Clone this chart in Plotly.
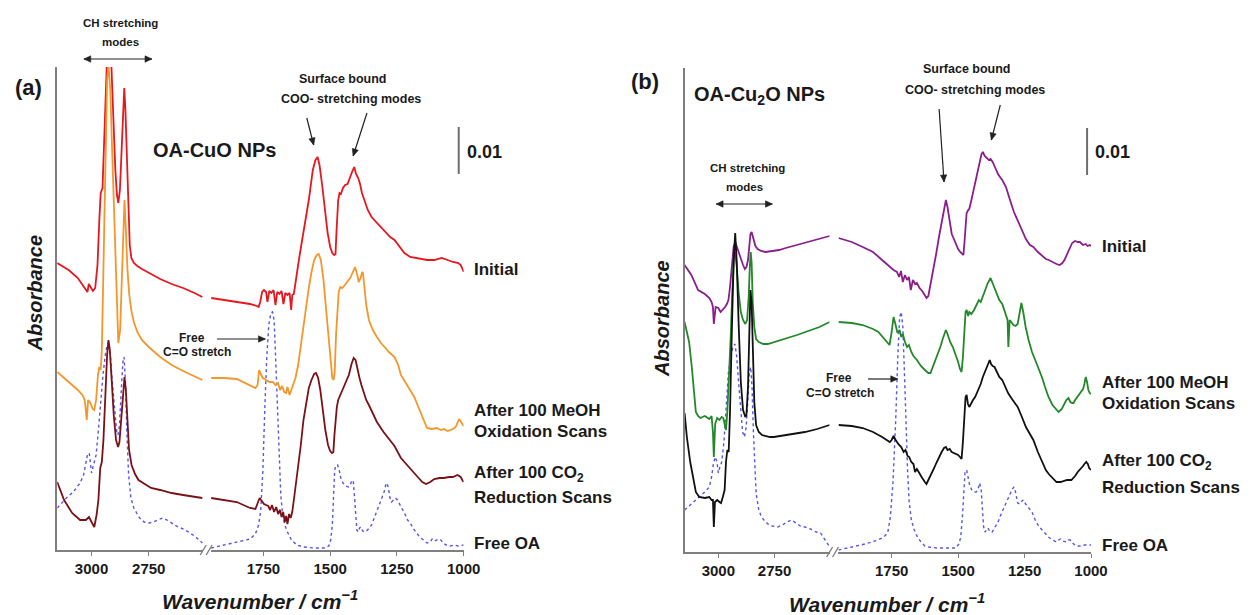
import math
import plotly.graph_objects as go

W, H = 1256, 615
FONT = "Liberation Sans, Arial, Helvetica, sans-serif"
TXT = "#1a1a1a"
AXC = "#7f7f7f"

# ---------------- tick labels ----------------
TICKS_CH = [3000, 2750]
TICKS_FP = [1750, 1500, 1250, 1000]
SCALE_BAR_UNITS = 47  # plot units corresponding to 0.01 absorbance

# ================= Panel (a): OA-CuO NPs =================
# Initial (red)
a_init_ch_wn = [3150, 3100, 3060, 3030, 3018, 3012, 3004, 2994, 2984, 2974, 2966, 2960, 2952, 2943, 2934, 2925, 2913, 2905, 2896, 2889,
                2883, 2876, 2868, 2862, 2857, 2852, 2846, 2840, 2833, 2826, 2815, 2800, 2780, 2740, 2700, 2650, 2600, 2550, 2516]
a_init_ch_abs = [287, 280, 272, 262, 258, 266, 263, 259, 262, 285, 330, 357, 362, 420, 483, 540, 483, 430, 380, 355,
                 347, 360, 400, 445, 462, 440, 390, 340, 305, 292, 287, 284, 281, 276, 271, 266, 262, 257, 253]
a_init_fp_wn = [1946, 1900, 1850, 1800, 1775, 1768, 1762, 1755, 1748, 1740, 1735, 1728, 1720, 1712, 1705, 1698, 1690, 1682, 1675, 1668,
                1660, 1652, 1646, 1642, 1636, 1630, 1620, 1610, 1595, 1580, 1565, 1555, 1547, 1540, 1530, 1520, 1510, 1500, 1492, 1485,
                1480, 1476, 1470, 1465, 1460, 1452, 1444, 1435, 1425, 1418, 1410, 1403, 1395, 1388, 1381, 1370, 1359, 1345, 1325, 1300,
                1275, 1259, 1240, 1222, 1200, 1180, 1160, 1137, 1110, 1082, 1060, 1040, 1020, 1011, 1004, 1000]
a_init_fp_abs = [252, 250, 248, 246, 244, 243, 248, 258, 260, 258, 248, 259, 257, 260, 245, 258, 256, 259, 246, 257,
                 255, 257, 240, 255, 256, 268, 285, 302, 327, 350, 380, 390, 393, 385, 365, 340, 318, 303, 297, 295,
                 296, 320, 350, 357, 356, 362, 365, 366, 372, 378, 383, 376, 372, 366, 357, 348, 340, 333, 327, 320,
                 313, 310, 303, 297, 293, 292, 291, 290, 290, 292, 290, 288, 287, 285, 281, 278]

# After 100 MeOH oxidation scans (orange)
a_ox_ch_wn = [3150, 3100, 3060, 3040, 3030, 3025, 3021, 3015, 3005, 2995, 2988, 2980, 2972, 2966, 2960, 2955, 2948, 2940, 2932, 2926,
              2918, 2910, 2900, 2890, 2883, 2875, 2866, 2860, 2856, 2850, 2843, 2835, 2825, 2815, 2800, 2780, 2750, 2700, 2650, 2600,
              2550, 2516]
a_ox_ch_abs = [178, 168, 160, 155, 150, 140, 130, 150, 147, 141, 140, 150, 175, 183, 180, 200, 280, 390, 470, 485,
               460, 400, 320, 240, 207, 220, 290, 340, 350, 320, 280, 255, 238, 228, 218, 210, 203, 193, 185, 179,
               174, 170]
a_ox_fp_wn = [1946, 1900, 1850, 1800, 1780, 1772, 1766, 1760, 1752, 1740, 1728, 1715, 1705, 1695, 1688, 1680, 1672, 1665, 1660, 1652,
              1645, 1638, 1630, 1620, 1610, 1600, 1590, 1580, 1570, 1560, 1550, 1543, 1535, 1525, 1515, 1505, 1498, 1492, 1487, 1483,
              1478, 1473, 1468, 1462, 1455, 1445, 1435, 1425, 1415, 1407, 1400, 1393, 1386, 1380, 1377, 1372, 1365, 1355, 1340, 1325,
              1310, 1296, 1280, 1259, 1245, 1235, 1220, 1200, 1185, 1165, 1150, 1137, 1120, 1100, 1085, 1074, 1060, 1050, 1040, 1030,
              1022, 1017, 1012, 1006, 1000]
a_ox_fp_abs = [172, 172, 171, 165, 162, 165, 180, 176, 172, 170, 168, 168, 165, 167, 160, 164, 158, 157, 163, 155,
               160, 165, 172, 185, 205, 225, 245, 262, 278, 290, 295, 296, 290, 270, 240, 210, 185, 172, 170, 178,
               215, 245, 258, 263, 262, 265, 268, 272, 278, 283, 277, 268, 272, 278, 277, 262, 245, 230, 220, 213,
               207, 203, 198, 193, 185, 175, 168, 160, 153, 140, 130, 122, 121, 122, 120, 121, 119, 120, 121, 123,
               128, 131, 129, 126, 124]

# After 100 CO2 reduction scans (dark red)
a_red_ch_wn = [3150, 3120, 3085, 3050, 3025, 3011, 3000, 2988, 2978, 2970, 2962, 2955, 2948, 2940, 2932, 2926, 2920, 2912, 2903, 2893,
               2884, 2878, 2870, 2862, 2856, 2850, 2843, 2836, 2825, 2810, 2795, 2770, 2740, 2700, 2650, 2600, 2550, 2516]
a_red_ch_abs = [68, 50, 37, 30, 30, 33, 28, 23, 35, 50, 82, 88, 110, 160, 195, 210, 200, 170, 135, 110,
                103, 108, 130, 160, 173, 160, 125, 100, 85, 76, 70, 66, 62, 60, 57, 55, 53, 52]
a_red_fp_wn = [1946, 1900, 1850, 1800, 1780, 1770, 1764, 1756, 1748, 1740, 1732, 1725, 1718, 1710, 1702, 1695, 1688, 1682, 1676, 1670,
               1665, 1660, 1654, 1648, 1642, 1636, 1630, 1620, 1610, 1600, 1590, 1580, 1570, 1560, 1553, 1545, 1537, 1528, 1518, 1508,
               1500, 1493, 1488, 1484, 1480, 1475, 1470, 1462, 1452, 1440, 1430, 1420, 1412, 1405, 1398, 1390, 1383, 1375, 1365, 1355,
               1340, 1325, 1300, 1282, 1259, 1235, 1210, 1190, 1172, 1155, 1141, 1125, 1110, 1090, 1074, 1055, 1040, 1023, 1011, 1005,
               1000]
a_red_fp_abs = [52, 50, 48, 42, 41, 48, 52, 49, 46, 45, 44, 40, 45, 38, 43, 36, 40, 33, 38, 28,
                34, 26, 36, 32, 38, 50, 62, 85, 105, 130, 148, 162, 170, 176, 177, 172, 160, 140, 120, 105,
                99, 97, 98, 115, 130, 143, 150, 155, 160, 167, 175, 186, 192, 190, 180, 172, 165, 158, 150, 145,
                137, 128, 118, 112, 104, 92, 84, 78, 73, 68, 66, 68, 71, 72, 72, 73, 73, 75, 73, 70,
                68]

# Free OA (blue dotted)
a_oa_ch_wn = [3150, 3110, 3080, 3050, 3035, 3025, 3018, 3010, 3004, 3000, 2995, 2988, 2980, 2970, 2960, 2950, 2940, 2932, 2925, 2918,
              2910, 2900, 2890, 2884, 2878, 2870, 2863, 2858, 2852, 2846, 2838, 2828, 2815, 2803, 2790, 2770, 2750, 2730, 2710, 2690,
              2670, 2650, 2630, 2610, 2590, 2570, 2550, 2530, 2516]
a_oa_ch_abs = [42, 52, 58, 67, 75, 88, 95, 97, 88, 77, 82, 87, 95, 120, 150, 175, 195, 205, 208, 195,
               170, 140, 118, 115, 125, 160, 188, 193, 170, 120, 75, 52, 42, 37, 32, 28, 27, 28, 30, 32,
               30, 27, 24, 22, 20, 17, 14, 10, 7]
a_oa_fp_wn = [1946, 1900, 1850, 1800, 1780, 1768, 1760, 1752, 1745, 1738, 1730, 1722, 1716, 1710, 1704, 1698, 1692, 1685, 1678, 1670,
              1660, 1645, 1625, 1600, 1560, 1520, 1505, 1498, 1492, 1487, 1483, 1478, 1472, 1466, 1460, 1452, 1442, 1432, 1425, 1418,
              1413, 1408, 1404, 1400, 1395, 1390, 1385, 1378, 1370, 1360, 1345, 1330, 1315, 1305, 1298, 1292, 1287, 1282, 1276, 1270,
              1262, 1255, 1248, 1240, 1232, 1225, 1218, 1210, 1200, 1190, 1180, 1165, 1150, 1137, 1125, 1118, 1110, 1100, 1092, 1085,
              1078, 1065, 1050, 1035, 1020, 1000]
a_oa_fp_abs = [2, 5, 8, 11, 16, 25, 40, 80, 140, 190, 225, 237, 238, 230, 190, 140, 90, 55, 35, 25,
               18, 10, 5, 3, 2, 2, 4, 10, 25, 55, 80, 85, 85, 80, 72, 67, 64, 63, 65, 70,
               68, 50, 30, 20, 18, 22, 23, 19, 18, 20, 25, 35, 45, 52, 58, 65, 67, 62, 52, 48,
               50, 52, 50, 46, 42, 40, 35, 30, 27, 22, 18, 13, 10, 7, 8, 11, 9, 10, 11, 10,
               7, 5, 4, 5, 4, 5]

# ================= Panel (b): OA-Cu2O NPs =================
# Initial (purple)
b_init_ch_wn = [3150, 3120, 3090, 3060, 3040, 3030, 3024, 3020, 3012, 3000, 2990, 2980, 2970, 2962, 2955, 2948, 2940, 2932, 2925, 2918,
                2910, 2900, 2890, 2882, 2875, 2868, 2862, 2857, 2852, 2848, 2842, 2835, 2825, 2810, 2790, 2760, 2730, 2700, 2650, 2600,
                2550, 2505]
b_init_ch_abs = [287, 277, 262, 258, 254, 250, 245, 228, 245, 244, 240, 242, 245, 248, 252, 265, 285, 305, 310, 305,
                 300, 293, 287, 283, 285, 292, 305, 318, 320, 316, 310, 306, 303, 301, 300, 301, 302, 304, 307, 310,
                 313, 316]
b_init_fp_wn = [1950, 1900, 1859, 1820, 1786, 1760, 1743, 1730, 1722, 1715, 1708, 1700, 1692, 1685, 1678, 1670, 1662, 1655, 1645, 1635,
                1625, 1619, 1612, 1600, 1590, 1582, 1572, 1565, 1560, 1553, 1546, 1540, 1532, 1524, 1516, 1508, 1500, 1492, 1485, 1480,
                1476, 1472, 1468, 1462, 1458, 1450, 1440, 1430, 1420, 1412, 1407, 1400, 1392, 1385, 1378, 1370, 1360, 1350, 1340, 1334,
                1320, 1312, 1300, 1290, 1276, 1260, 1245, 1230, 1217, 1200, 1185, 1170, 1159, 1145, 1130, 1118, 1108, 1100, 1090, 1080,
                1071, 1060, 1050, 1042, 1030, 1020, 1013, 1005, 1000]
b_init_fp_abs = [314, 310, 305, 300, 292, 286, 282, 280, 275, 281, 270, 277, 272, 275, 262, 272, 268, 269, 264, 261,
                 256, 254, 256, 272, 288, 299, 315, 325, 335, 345, 352, 345, 330, 318, 313, 308, 303, 300, 298, 297,
                 310, 330, 339, 342, 343, 352, 365, 378, 390, 398, 400, 396, 394, 392, 393, 390, 384, 378, 374, 372,
                 365, 359, 348, 340, 332, 322, 313, 307, 305, 300, 296, 293, 292, 290, 288, 287, 289, 292, 298, 304,
                 309, 311, 310, 310, 307, 308, 306, 307, 306]

# After 100 MeOH oxidation scans (green)
b_ox_ch_wn = [3150, 3130, 3118, 3108, 3100, 3090, 3080, 3060, 3040, 3030, 3024, 3020, 3014, 3005, 2995, 2985, 2978, 2972, 2966, 2960,
              2953, 2945, 2938, 2930, 2925, 2918, 2910, 2900, 2890, 2880, 2872, 2865, 2860, 2856, 2852, 2847, 2840, 2832, 2820, 2800,
              2780, 2750, 2700, 2650, 2600, 2550, 2505]
b_ox_ch_abs = [230, 210, 185, 160, 140, 136, 134, 136, 133, 136, 120, 95, 128, 134, 132, 135, 134, 128, 122, 140,
               170, 215, 260, 295, 300, 285, 260, 240, 232, 228, 232, 255, 285, 300, 290, 250, 225, 213, 210, 208,
               208, 210, 213, 217, 221, 225, 230]
b_ox_fp_wn = [1950, 1900, 1859, 1820, 1800, 1780, 1765, 1758, 1750, 1743, 1736, 1728, 1720, 1714, 1708, 1700, 1692, 1685, 1676, 1668,
              1655, 1640, 1625, 1612, 1604, 1595, 1585, 1575, 1567, 1558, 1550, 1546, 1540, 1530, 1520, 1510, 1500, 1493, 1487, 1482,
              1477, 1472, 1468, 1462, 1458, 1450, 1440, 1430, 1422, 1415, 1407, 1398, 1390, 1383, 1378, 1372, 1365, 1356, 1345, 1334,
              1325, 1318, 1314, 1311, 1306, 1300, 1292, 1284, 1276, 1268, 1262, 1255, 1246, 1235, 1222, 1210, 1195, 1185, 1173, 1160,
              1145, 1130, 1122, 1110, 1100, 1093, 1085, 1078, 1071, 1066, 1060, 1050, 1040, 1030, 1025, 1020, 1015, 1010, 1005, 1000]
b_ox_fp_abs = [230, 229, 227, 223, 220, 214, 209, 207, 220, 235, 228, 219, 222, 215, 218, 210, 205, 207, 200, 196,
               192, 186, 182, 179, 179, 185, 192, 200, 205, 213, 220, 222, 218, 210, 205, 198, 190, 183, 180, 195,
               225, 240, 242, 236, 240, 238, 242, 248, 252, 250, 255, 262, 268, 272, 274, 270, 265, 260, 252, 248,
               240, 236, 232, 205, 232, 230, 227, 226, 228, 240, 249, 240, 225, 212, 200, 192, 182, 175, 165, 155,
               147, 142, 140, 143, 148, 152, 154, 150, 149, 149, 152, 156, 159, 163, 168, 175, 170, 162, 159, 158]

# After 100 CO2 reduction scans (black)
b_red_ch_wn = [3150, 3140, 3125, 3110, 3100, 3085, 3060, 3040, 3030, 3024, 3020, 3015, 3005, 2995, 2988, 2980, 2972, 2966, 2960, 2954,
               2948, 2940, 2932, 2925, 2918, 2910, 2900, 2890, 2880, 2875, 2868, 2862, 2857, 2852, 2846, 2840, 2832, 2820, 2806, 2790,
               2770, 2753, 2700, 2650, 2615, 2560, 2505]
b_red_ch_abs = [139, 115, 90, 70, 60, 55, 54, 55, 52, 52, 25, 50, 52, 50, 49, 55, 62, 90, 102, 100,
                140, 220, 290, 319, 290, 230, 170, 142, 135, 137, 165, 220, 262, 250, 190, 150, 127, 120, 117, 116,
                115, 115, 117, 119, 120, 123, 127]
b_red_fp_wn = [1950, 1900, 1859, 1820, 1786, 1765, 1757, 1750, 1743, 1735, 1725, 1714, 1705, 1698, 1690, 1684, 1676, 1668, 1662, 1655,
               1645, 1635, 1625, 1619, 1612, 1600, 1590, 1582, 1572, 1562, 1553, 1546, 1540, 1532, 1524, 1516, 1508, 1500, 1493, 1487,
               1482, 1477, 1472, 1468, 1463, 1458, 1450, 1444, 1436, 1428, 1422, 1415, 1407, 1400, 1393, 1386, 1381, 1376, 1370, 1363,
               1355, 1345, 1334, 1325, 1318, 1312, 1300, 1290, 1276, 1260, 1245, 1230, 1217, 1200, 1185, 1170, 1159, 1145, 1137, 1130,
               1115, 1100, 1090, 1074, 1060, 1050, 1042, 1035, 1030, 1025, 1018, 1012, 1007, 1000]
b_red_fp_abs = [127, 126, 124, 120, 115, 111, 110, 112, 116, 112, 108, 105, 100, 102, 96, 95, 90, 88, 80, 83,
                78, 74, 70, 68, 72, 78, 84, 89, 95, 100, 104, 105, 102, 103, 100, 99, 98, 97, 95, 93,
                110, 140, 155, 157, 148, 145, 150, 152, 155, 160, 162, 168, 175, 180, 185, 190, 192, 188, 186, 185,
                180, 175, 172, 166, 162, 159, 154, 150, 145, 135, 125, 118, 112, 100, 90, 82, 78, 74, 72, 70,
                70, 71, 72, 72, 76, 80, 82, 84, 86, 88, 90, 88, 84, 82]

# Free OA (blue dotted)
b_oa_ch_wn = [3150, 3110, 3083, 3060, 3040, 3030, 3022, 3014, 3006, 3000, 2993, 2985, 2975, 2965, 2955, 2944, 2935, 2926, 2918, 2910,
              2900, 2892, 2884, 2876, 2868, 2862, 2856, 2850, 2844, 2838, 2832, 2820, 2808, 2797, 2780, 2760, 2736, 2715, 2695, 2675,
              2655, 2635, 2615, 2590, 2565, 2545, 2525, 2505]
b_oa_ch_abs = [42, 50, 55, 60, 65, 75, 88, 95, 90, 79, 85, 90, 110, 150, 180, 195, 205, 208, 195, 170,
               140, 120, 115, 125, 155, 180, 185, 165, 120, 85, 59, 42, 35, 32, 28, 26, 25, 27, 30, 32,
               29, 26, 25, 23, 20, 19, 12, 5]
b_oa_fp_wn = [1950, 1900, 1850, 1801, 1780, 1765, 1755, 1745, 1735, 1727, 1720, 1714, 1708, 1702, 1696, 1690, 1684, 1676, 1665, 1655,
              1640, 1625, 1611, 1580, 1540, 1509, 1497, 1490, 1484, 1479, 1474, 1468, 1462, 1456, 1448, 1440, 1432, 1425, 1419, 1413,
              1408, 1404, 1399, 1394, 1388, 1380, 1372, 1363, 1350, 1338, 1327, 1315, 1305, 1296, 1290, 1284, 1276, 1268, 1260, 1254,
              1246, 1238, 1232, 1222, 1210, 1195, 1180, 1173, 1160, 1145, 1130, 1122, 1115, 1106, 1093, 1085, 1078, 1070, 1056, 1040,
              1025, 1010, 1000]
b_oa_fp_abs = [2, 5, 8, 12, 15, 19, 35, 70, 130, 195, 235, 240, 225, 180, 120, 80, 50, 32, 22, 16,
               10, 6, 5, 4, 4, 4, 8, 15, 35, 65, 80, 82, 75, 66, 62, 60, 60, 63, 69, 62,
               40, 25, 20, 22, 24, 20, 20, 24, 30, 38, 45, 52, 58, 63, 65, 60, 49, 48, 51, 52,
               48, 45, 44, 40, 32, 25, 21, 19, 15, 12, 10, 12, 13, 11, 10, 12, 12, 9, 6, 6,
               7, 7, 7]

# ---------------- figure ----------------
def px(x):
    return x / W


def py(y):
    return 1 - y / H


fig = go.Figure()

SERIES = [
    # (left axis, right axis, y axis, ch_wn, ch_abs, fp_wn, fp_abs, color, dash, width)
    ("x", "x2", "y", a_oa_ch_wn, a_oa_ch_abs, a_oa_fp_wn, a_oa_fp_abs, "#5656e8", "dot", 1.4),
    ("x", "x2", "y", a_init_ch_wn, a_init_ch_abs, a_init_fp_wn, a_init_fp_abs, "#e8161e", "solid", 1.8),
    ("x", "x2", "y", a_ox_ch_wn, a_ox_ch_abs, a_ox_fp_wn, a_ox_fp_abs, "#f4962a", "solid", 1.8),
    ("x", "x2", "y", a_red_ch_wn, a_red_ch_abs, a_red_fp_wn, a_red_fp_abs, "#7a1117", "solid", 1.8),
    ("x3", "x4", "y2", b_oa_ch_wn, b_oa_ch_abs, b_oa_fp_wn, b_oa_fp_abs, "#5656e8", "dot", 1.4),
    ("x3", "x4", "y2", b_init_ch_wn, b_init_ch_abs, b_init_fp_wn, b_init_fp_abs, "#8a1e8c", "solid", 1.8),
    ("x3", "x4", "y2", b_ox_ch_wn, b_ox_ch_abs, b_ox_fp_wn, b_ox_fp_abs, "#23882a", "solid", 1.8),
    ("x3", "x4", "y2", b_red_ch_wn, b_red_ch_abs, b_red_fp_wn, b_red_fp_abs, "#111111", "solid", 1.8),
]

for xl, xr, ya, cw, ca, fw, fa, col, dash, lw in SERIES:
    for xs, ys, xa in ((cw, ca, xl), (fw, fa, xr)):
        n = min(len(xs), len(ys))
        fig.add_trace(go.Scatter(x=xs[:n], y=ys[:n], xaxis=xa, yaxis=ya, mode="lines",
                                 line=dict(color=col, width=lw, dash=dash),
                                 showlegend=False, hoverinfo="skip"))

xcommon = dict(showline=True, linecolor=AXC, linewidth=1.6, ticks="outside", ticklen=4, tickwidth=1.3,
               tickcolor=AXC, showgrid=False, zeroline=False, fixedrange=True,
               tickfont=dict(family=FONT, size=15, color=TXT, weight="bold"))
ycommon = dict(showline=True, linecolor=AXC, linewidth=1.6, ticks="", showticklabels=False,
               showgrid=False, zeroline=False, fixedrange=True)

fig.update_layout(
    width=W, height=H, margin=dict(l=0, r=0, t=0, b=0),
    paper_bgcolor="white", plot_bgcolor="white", showlegend=False,
    xaxis=dict(domain=[px(58), px(206)], range=[3150, 2512], anchor="y", tickvals=TICKS_CH, **xcommon),
    xaxis2=dict(domain=[px(214), px(470)], range=[1946, 1000], anchor="y", tickvals=TICKS_FP, **xcommon),
    yaxis=dict(domain=[py(550), py(67)], range=[0, 483], anchor="x", **ycommon),
    xaxis3=dict(domain=[px(694), px(841)], range=[3150, 2505], anchor="y2", tickvals=TICKS_CH, **xcommon),
    xaxis4=dict(domain=[px(850), px(1106)], range=[1950, 1000], anchor="y2", tickvals=TICKS_FP, **xcommon),
    yaxis2=dict(domain=[py(552), py(68)], range=[0, 484], anchor="x3", **ycommon),
)

shapes = []
# axis break marks
for (x0, yb) in ((203, 550), (838, 552)):
    for dx in (0, 6):
        shapes.append(dict(type="line", xref="paper", yref="paper",
                           x0=px(x0 + dx), y0=py(yb + 5), x1=px(x0 + dx + 6), y1=py(yb - 5),
                           line=dict(color=AXC, width=1.4)))
# 0.01 scale bars
shapes.append(dict(type="line", xref="paper", yref="y", x0=px(465), x1=px(465), y0=376, y1=376 + SCALE_BAR_UNITS,
                   line=dict(color="#6e6e6e", width=2)))
shapes.append(dict(type="line", xref="paper", yref="y2", x0=px(1102), x1=px(1102), y0=377, y1=377 + SCALE_BAR_UNITS,
                   line=dict(color="#6e6e6e", width=2)))


def head(hx, hy, tx, ty, L=7.0, w=3.2):
    dx, dy = hx - tx, hy - ty
    d = math.hypot(dx, dy) or 1.0
    ux, uy = dx / d, dy / d
    bx, by = hx - L * ux, hy - L * uy
    nx, ny = -uy, ux
    pts = [(hx, hy), (bx + w * nx, by + w * ny), (bx - w * nx, by - w * ny)]
    path = "M " + " L ".join(f"{px(a):.5f},{py(b):.5f}" for a, b in pts) + " Z"
    shapes.append(dict(type="path", xref="paper", yref="paper", path=path,
                       fillcolor="#222222", line=dict(color="#222222", width=0.6)))


def A(x0, y0, x1, y1, both=False):
    shapes.append(dict(type="line", xref="paper", yref="paper", x0=px(x0), y0=py(y0), x1=px(x1), y1=py(y1),
                       line=dict(color="#222222", width=1.2)))
    head(x1, y1, x0, y0)
    if both:
        head(x0, y0, x1, y1)


ann = []


def T(text, x, y, size, xanchor="center", italic=False, angle=0):
    ann.append(dict(text=text, x=px(x), y=py(y), xref="paper", yref="paper", showarrow=False,
                    xanchor=xanchor, yanchor="middle", textangle=angle,
                    font=dict(family=FONT, size=size, color=TXT, weight="bold",
                              style="italic" if italic else "normal")))


# ---- panel (a) texts ----
T("(a)", 29, 87, 22)
T("CH stretching", 122, 23, 11.5)
T("modes", 122, 42, 11.5)
A(85, 59, 154, 59, both=True)
T("OA-CuO NPs", 217, 150, 20)
T("Surface bound", 348, 79, 12.5)
T("COO- stretching modes", 356, 99, 12.5)
A(311, 118, 318, 145)
A(372, 113, 358, 156)
T("0.01", 491, 152, 18)
T("Free", 195, 338, 12)
T("C=O stretch", 200, 352, 12)
A(220, 339, 269, 339)
T("Absorbance", 35, 293, 20, italic=True, angle=-90)
T("Wavenumber / cm<sup>−1</sup>", 264, 600, 21, italic=True)
T("Initial", 478, 269, 17, xanchor="left")
T("After 100 MeOH", 478, 410, 17, xanchor="left")
T("Oxidation Scans", 478, 431, 17, xanchor="left")
T("After 100 CO<sub>2</sub>", 478, 474, 17, xanchor="left")
T("Reduction Scans", 478, 497, 17, xanchor="left")
T("Free OA", 478, 543, 17, xanchor="left")

# ---- panel (b) texts ----
T("(b)", 654, 82, 22)
T("OA-Cu<sub>2</sub>O NPs", 770, 95, 20)
T("Surface bound", 980, 69, 12.5)
T("COO- stretching modes", 988, 90, 12.5)
A(952, 109, 957, 182)
A(1014, 105, 1005, 140)
T("0.01", 1128, 152, 18)
T("CH stretching", 758, 168, 11.5)
T("modes", 755, 187, 11.5)
A(726, 204, 783, 204, both=True)
T("Free", 851, 378, 12)
T("C=O stretch", 852, 393, 12)
A(880, 379, 910, 379)
T("Absorbance", 671, 318, 20, italic=True, angle=-90)
T("Wavenumber / cm<sup>−1</sup>", 899, 603, 21, italic=True)
T("Initial", 1115, 246, 17, xanchor="left")
T("After 100 MeOH", 1115, 382, 17, xanchor="left")
T("Oxidation Scans", 1115, 403, 17, xanchor="left")
T("After 100 CO<sub>2</sub>", 1115, 462, 17, xanchor="left")
T("Reduction Scans", 1115, 487, 17, xanchor="left")
T("Free OA", 1115, 545, 17, xanchor="left")

fig.update_layout(shapes=shapes, annotations=ann)

fig.write_html("out.html")
